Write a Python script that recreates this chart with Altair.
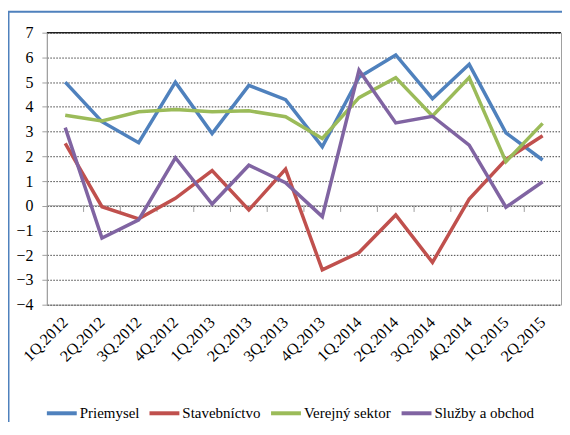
import altair as alt
import pandas as pd

categories = ['1Q.2012', '2Q.2012', '3Q.2012', '4Q.2012', '1Q.2013', '2Q.2013', '3Q.2013',
              '4Q.2013', '1Q.2014', '2Q.2014', '3Q.2014', '4Q.2014', '1Q.2015', '2Q.2015']
series_names = ['Priemysel', 'Stavebníctvo', 'Verejný sektor', 'Služby a obchod']
priemysel = [5.0, 3.4, 2.55, 5.0, 2.92, 4.87, 4.29, 2.38, 5.2, 6.1, 4.33, 5.72, 2.95, 1.85]
stavebnictvo = [2.52, -0.04, -0.53, 0.3, 1.42, -0.17, 1.48, -2.59, -1.89, -0.37, -2.29, 0.27, 1.87, 2.83]
verejny = [3.66, 3.43, 3.8, 3.89, 3.8, 3.84, 3.6, 2.72, 4.37, 5.18, 3.63, 5.18, 1.78, 3.33]
sluzby = [3.16, -1.31, -0.57, 1.94, 0.07, 1.64, 0.93, -0.44, 5.48, 3.35, 3.62, 2.45, -0.06, 0.97]
colors = ['#4F81BD', '#C0504D', '#9BBB59', '#8064A2']

rows = []
for name, vals in zip(series_names, [priemysel, stavebnictvo, verejny, sluzby]):
    for i, v in enumerate(vals):
        rows.append({'idx': i, 'cat': categories[i], 'value': v, 'series': name})
df = pd.DataFrame(rows)

FONT = "'Liberation Serif', 'Times New Roman', serif"
label_js = '[' + ','.join("'%s'" % c for c in categories) + ']'

xscale = alt.Scale(domain=[-0.5, len(categories) - 0.5], nice=False, zero=False)
yscale = alt.Scale(domain=[-4, 7], nice=False)

x_axis = alt.Axis(values=list(range(len(categories))), labelExpr=label_js + '[datum.value]',
                  labelAngle=-45, domain=False, ticks=False, grid=False, title=None,
                  labelOverlap=False, labelPadding=9, labelOffset=-6, labelFont=FONT,
                  labelFontSize=16, labelColor='black')
y_axis = alt.Axis(values=list(range(-4, 8)), title=None, grid=True, gridColor='#404040',
                  gridDash=[1.5, 1.5], gridWidth=1, domainColor='#a0a0a0', tickColor='#a0a0a0',
                  tickSize=5, labelPadding=9, labelOverlap=False, labelFont=FONT,
                  labelFontSize=16, labelColor='black')

lines = alt.Chart(df).mark_line(strokeWidth=3.5).encode(
    x=alt.X('idx:Q', scale=xscale, axis=x_axis),
    y=alt.Y('value:Q', scale=yscale, axis=y_axis),
    color=alt.Color('series:N', sort=series_names,
                    scale=alt.Scale(domain=series_names, range=colors),
                    legend=alt.Legend(title=None, orient='none', legendX=-2, legendY=365,
                                      direction='horizontal', symbolType='stroke',
                                      symbolSize=900, symbolStrokeWidth=4, labelOffset=1,
                                      columnPadding=2, labelFont=FONT, labelFontSize=15,
                                      labelColor='black')),
    order=alt.Order('idx:Q'),
)

one = pd.DataFrame({'a': [0]})
zero_line = alt.Chart(one).mark_rule(color='#a0a0a0', strokeWidth=1).encode(
    y=alt.YDatum(0, scale=yscale, axis=y_axis))
top_line = alt.Chart(one).mark_rule(color='black', strokeWidth=1).encode(
    y=alt.YDatum(7, scale=yscale, axis=y_axis))
tick_df = pd.DataFrame({'b': [i + 0.5 for i in range(len(categories) - 1)]})
zero_ticks = alt.Chart(tick_df).mark_rule(color='#a0a0a0', strokeWidth=1).encode(
    x=alt.X('b:Q', scale=xscale, axis=x_axis),
    y=alt.YDatum(0, scale=yscale, axis=y_axis), y2=alt.Y2Datum(-0.25))
frame = alt.Chart(one).mark_rect(filled=False, stroke='#4F81BD', strokeWidth=2).encode(
    x=alt.value(-38.5), x2=alt.value(800), y=alt.value(-21), y2=alt.value(800))

chart = alt.layer(frame, zero_line, zero_ticks, top_line, lines).properties(
    width=516, height=273,
    autosize=alt.AutoSizeParams(type='none'),
    padding={'left': 39, 'top': 24, 'right': 1, 'bottom': 117},
    background='white',
).configure_view(stroke='#a0a0a0')

chart.save('out.html', embed_options={'renderer': 'svg', 'actions': False})
